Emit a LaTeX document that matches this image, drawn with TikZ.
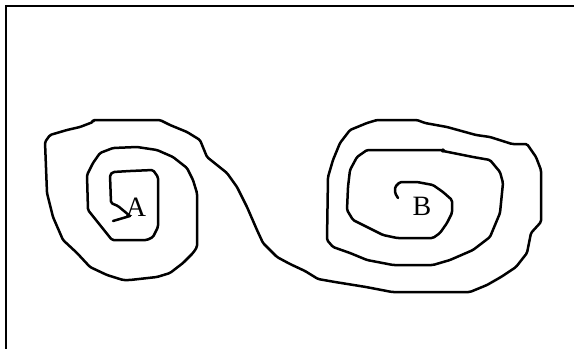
\documentclass[tikz,border=0pt]{standalone}
\usepackage{fontspec}
\setmainfont{Liberation Serif}
\begin{document}
\begin{tikzpicture}[x=1pt,y=-1pt,
  frame/.style={line width=2.2pt},
  streamline/.style={line width=2.5pt,line join=round,line cap=round,rounded corners=1.5pt},
  lbl/.style={inner sep=0pt,font=\fontsize{28}{28}\selectfont}]
\useasboundingbox (0,0) rectangle (574,349);
\fill[white] (0,0) rectangle (574,349);
% frame (top and left edges)
\draw[frame] (574,6) -- (5.7,6) -- (5.7,349);
% spiral streamline
\draw[streamline]
 (130,216) -- (118,206) -- (111,203) -- (110,175) -- (113,172) -- (130,171) -- (153,170)
 -- (158,177) -- (158,227) -- (153,237) -- (147,240) -- (112,240) -- (88,210) -- (87,175)
 -- (93,163) -- (100,153) -- (113,148) -- (137,147) -- (157,150) -- (173,157) -- (187,168)
 -- (193,180) -- (197,193) -- (197,247) -- (193,253) -- (183,263) -- (170,273) -- (157,277)
 -- (130,280) -- (123,280) -- (107,275) -- (90,267) -- (77,253) -- (63,240) -- (53,217)
 -- (47,193) -- (45,142) -- (50,135) -- (67,130) -- (80,127) -- (93,122) -- (93,120)
 -- (160,120) -- (170,125) -- (187,132) -- (200,140) -- (207,157) -- (217,165) -- (227,173)
 -- (237,187) -- (247,207) -- (257,230) -- (263,243) -- (277,257) -- (290,264) -- (305,271)
 -- (318,279) -- (335,282) -- (366,287) -- (392,292) -- (470,292) -- (487,285) -- (501,277)
 -- (516,267) -- (527,253) -- (531,233) -- (541,222) -- (541,170) -- (536,157) -- (527,144)
 -- (512,144) -- (490,137) -- (476,135) -- (447,127) -- (425,123) -- (417,120) -- (377,120)
 -- (367,123) -- (350,130) -- (340,143) -- (333,160) -- (328,177) -- (327,240) -- (333,247)
 -- (350,253) -- (367,260) -- (393,265) -- (433,265) -- (450,260) -- (473,250) -- (490,237)
 -- (500,213) -- (503,183) -- (500,172) -- (490,160) -- (473,157) -- (443,151) -- (443,150)
 -- (367,150) -- (357,157) -- (350,170) -- (348,187) -- (347,210) -- (353,220) -- (367,227)
 -- (383,235) -- (397,238) -- (433,238) -- (440,233) -- (447,223) -- (452,213) -- (452,200)
 -- (443,192) -- (433,185) -- (417,182) -- (400,182) -- (395,187) -- (395,193) -- (398,198);
% small stroke of the arrow near A
\coordinate (tip) at (130,216);
\coordinate (tail) at (113,221);
\draw[streamline] (tail) -- (tip);
% labels
\node[lbl] (A) at (136,207) {A};
\node[lbl] (B) at (422,206) {B};
\end{tikzpicture}
\end{document}
